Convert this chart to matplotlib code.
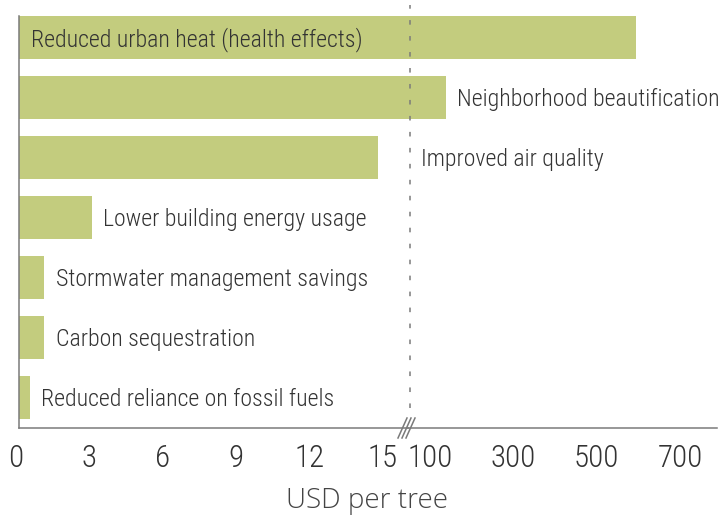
import matplotlib
matplotlib.use('Agg')
import matplotlib.pyplot as plt
from matplotlib import font_manager as fm
from matplotlib.transforms import ScaledTranslation
from matplotlib.lines import Line2D

plt.rcParams['lines.scale_dashes'] = False

categories = ["Reduced urban heat (health effects)", "Neighborhood beautification",
              "Improved air quality", "Lower building energy usage",
              "Stormwater management savings", "Carbon sequestration",
              "Reduced reliance on fossil fuels"]
values = [594, 138, 14.7, 3.0, 1.05, 1.05, 0.47]
low_ticks = [0, 3, 6, 9, 12, 15]
high_ticks = [100, 300, 500, 700]
x_label = "USD per tree"

GREEN = '#C3CC7E'
GREY = '#7a7a7a'
TXT = '#333333'

# choose a condensed, light face when one is installed
prefs = ['Open Sans Condensed', 'Roboto Condensed', 'Fira Sans Condensed',
         'Encode Sans Condensed', 'Barlow Semi Condensed', 'Liberation Sans Narrow']
chosen, wt = None, 'normal'
for name in prefs:
    faces = [f for f in fm.fontManager.ttflist if f.name == name and f.style == 'normal']
    if not faces:
        continue
    lights = [f for f in faces if str(f.weight) in ('300', 'light')]
    if lights:
        chosen, wt = name, 300
        break
    regs = [f for f in faces if str(f.weight) in ('400', 'normal', 'regular')]
    if regs and chosen is None:
        chosen, wt = name, 400
        break
if chosen is None:
    chosen, wt = 'DejaVu Sans', 'normal'
NARROW = [chosen, 'DejaVu Sans']

W, H = 722, 519
fig = plt.figure(figsize=(7.22, 5.19), dpi=100)

# size text so that the widest label matches the reference width (263 px)
probe = fig.text(0, 0, categories[1], fontsize=20, family=NARROW, fontweight=wt)
fig.canvas.draw()
wpx = probe.get_window_extent().width
probe.remove()
fs = 20 * 263.0 / wpx
fs = min(fs, 19.5)
tfs = fs * 1.3


def px(x0, y0, x1, y1):
    return [x0 / W, 1 - y1 / H, (x1 - x0) / W, (y1 - y0) / H]


ax2 = fig.add_axes(px(408, 7.5, 717, 427.5))
ax1 = fig.add_axes(px(18.5, 7.5, 408, 427.5))
ax1.set_zorder(3)
low_max = 15.92
high_min, high_max = 47.2, 788.8
ax1.set_xlim(0, low_max)
ax2.set_xlim(high_min, high_max)
for ax in (ax1, ax2):
    ax.set_ylim(6.5, -0.5)
    ax.set_yticks([])
    ax.patch.set_alpha(0)
    for s in ('top', 'right', 'left'):
        ax.spines[s].set_visible(False)
    ax.spines['bottom'].set_color(GREY)
    ax.spines['bottom'].set_linewidth(1.1)
    ax.tick_params(axis='x', length=0, pad=12, labelsize=tfs, labelcolor=TXT)

ax1.spines['left'].set_visible(True)
ax1.spines['left'].set_color(GREY)
ax1.spines['left'].set_linewidth(1.1)
ax1.spines['left'].set_bounds(6.5, -0.36)

bh = 0.715
for i, v in enumerate(values):
    ax1.barh(i, min(v, low_max), height=bh, color=GREEN, linewidth=0)
    if v > low_max:
        ax2.barh(i, v - high_min, left=high_min, height=bh, color=GREEN, linewidth=0)

ax1.set_xticks(low_ticks)
ax1.set_xticklabels([str(t) for t in low_ticks], family=NARROW, fontweight=wt)
ax2.set_xticks(high_ticks)
ax2.set_xticklabels([str(t) for t in high_ticks], family=NARROW, fontweight=wt)
for lab in ax1.get_xticklabels():
    lab.set_transform(lab.get_transform() + ScaledTranslation(-2.5 / 100, 0, fig.dpi_scale_trans))

# bar labels (baseline placed so capitals sit centred on the bar)
yoff = -0.36 * fs * 100 / 72
for i, (c, v) in enumerate(zip(categories, values)):
    if i == 0:
        ax, x, off = ax1, 0, 12.5
    elif i == 2:
        ax, x, off = ax2, high_min, 13
    elif v > low_max:
        ax, x, off = ax2, v, 11
    else:
        ax, x, off = ax1, v, 11.5
    ax.annotate(c, xy=(x, i), xytext=(off, yoff), textcoords='offset pixels',
                ha='left', va='baseline', fontsize=fs, color=TXT, family=NARROW,
                fontweight=wt, annotation_clip=False, zorder=5)

# dashed break line
ax2.add_line(Line2D([2 / 309, 2 / 309], [(427.5 - 408) / 420, (427.5 - 5) / 420],
                    transform=ax2.transAxes, color=GREY, linewidth=1.1,
                    linestyle=(0, (3.3, 8.2)), zorder=4, clip_on=False))

# break marks
for k in range(3):
    x0 = 398 + 4 * k
    fig.add_artist(Line2D([x0 / W, (x0 + 9) / W], [1 - 438 / H, 1 - 418 / H],
                          transform=fig.transFigure, color=GREY, linewidth=1.1))

fig.text(367 / W, 1 - 508 / H, x_label, ha='center', va='baseline', fontsize=20,
         color='#444444', family=['Open Sans', 'DejaVu Sans'], fontweight='light')

fig.savefig('out.png', dpi=100)
